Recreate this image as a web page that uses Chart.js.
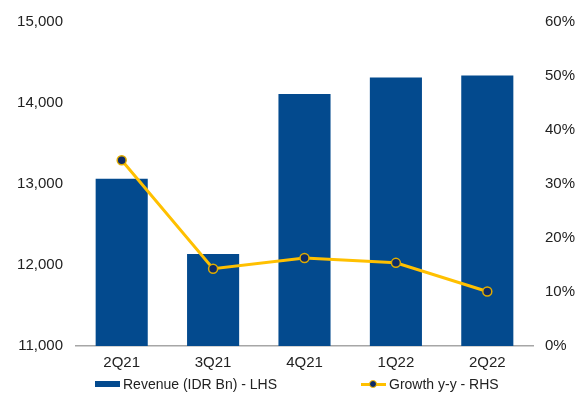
<!DOCTYPE html>
<html>
<head>
<meta charset="utf-8">
<script src="https://cdn.jsdelivr.net/npm/chart.js@4/dist/chart.umd.min.js"></script>
<style>
  body { margin: 0; background: #fff; font-family: "Liberation Sans", Arial, sans-serif; }
  #wrap { position: relative; width: 583px; height: 401px; }
  .legend { position: absolute; top: 376px; font-size: 14px; color: #222; display: flex; align-items: center; white-space: nowrap; }
  .box { width: 25px; height: 6px; background: #034a8e; margin-right: 3px; }
  .line { position: relative; width: 25px; height: 12px; margin-right: 3px; }
  .line:before { content: ""; position: absolute; left: 0; right: 0; top: 5px; height: 3px; background: #ffc000; }
  .line:after { content: ""; position: absolute; left: 8px; top: 2px; width: 6px; height: 6px; border-radius: 50%; background: #0d2a66; border: 1.5px solid #ffc000; }
</style>
</head>
<body>
<div id="wrap">
  <canvas id="chart" width="583" height="401"></canvas>
  <div class="legend" style="left:95px"><span class="box"></span>Revenue (IDR Bn) - LHS</div>
  <div class="legend" style="left:361px"><span class="line"></span>Growth y-y - RHS</div>
</div>
<script>
const d = document;

const quarters = ['2Q21', '3Q21', '4Q21', '1Q22', '2Q22'];
const revenue = [13065, 12135, 14110, 14315, 14340];
const growth = [34.4, 14.3, 16.3, 15.4, 10.1];

const fontTicks = { family: '"Liberation Sans", Arial, sans-serif', size: 15 };

const $chart = d.getElementById('chart').getContext('2d');

new Chart($chart, {
    type: 'bar',
    data: {
        labels: quarters,
        datasets: [
            {
                type: 'line',
                label: 'Growth y-y - RHS',
                data: growth,
                yAxisID: 'y2',
                borderColor: '#ffc000',
                borderWidth: 3,
                pointRadius: 4.5,
                pointBackgroundColor: '#0d2a66',
                pointBorderColor: '#e0ac00',
                pointBorderWidth: 1.5,
                tension: 0,
                order: 0
            },
            {
                label: 'Revenue (IDR Bn) - LHS',
                data: revenue,
                yAxisID: 'y',
                backgroundColor: '#034a8e',
                barPercentage: 0.57,
                categoryPercentage: 1,
                order: 1
            }
        ]
    },
    options: {
        responsive: false,
        animation: false,
        layout: { padding: { top: 16 } },
        plugins: { legend: { display: false }, tooltip: { enabled: false } },
        scales: {
            x: {
                grid: { display: false, drawTicks: false },
                border: { display: true, color: '#a6a6a6', width: 1.5 },
                ticks: { color: '#222', font: fontTicks, padding: 8 },
                afterFit: (s) => { s.height = 55; }
            },
            y: {
                position: 'left',
                min: 11000,
                max: 15000,
                grid: { display: false, drawTicks: false },
                border: { display: false },
                ticks: {
                    stepSize: 1000,
                    color: '#222',
                    font: fontTicks,
                    padding: 13,
                    callback: (v) => v.toLocaleString('en-US')
                },
                afterFit: (s) => { s.width = 76; }
            },
            y2: {
                position: 'right',
                min: 0,
                max: 60,
                grid: { display: false, drawTicks: false },
                border: { display: false },
                ticks: {
                    stepSize: 10,
                    color: '#222',
                    font: fontTicks,
                    padding: 12,
                    callback: (v) => v + '%'
                },
                afterFit: (s) => { s.width = 50; }
            }
        }
    }
});
</script>
</body>
</html>
